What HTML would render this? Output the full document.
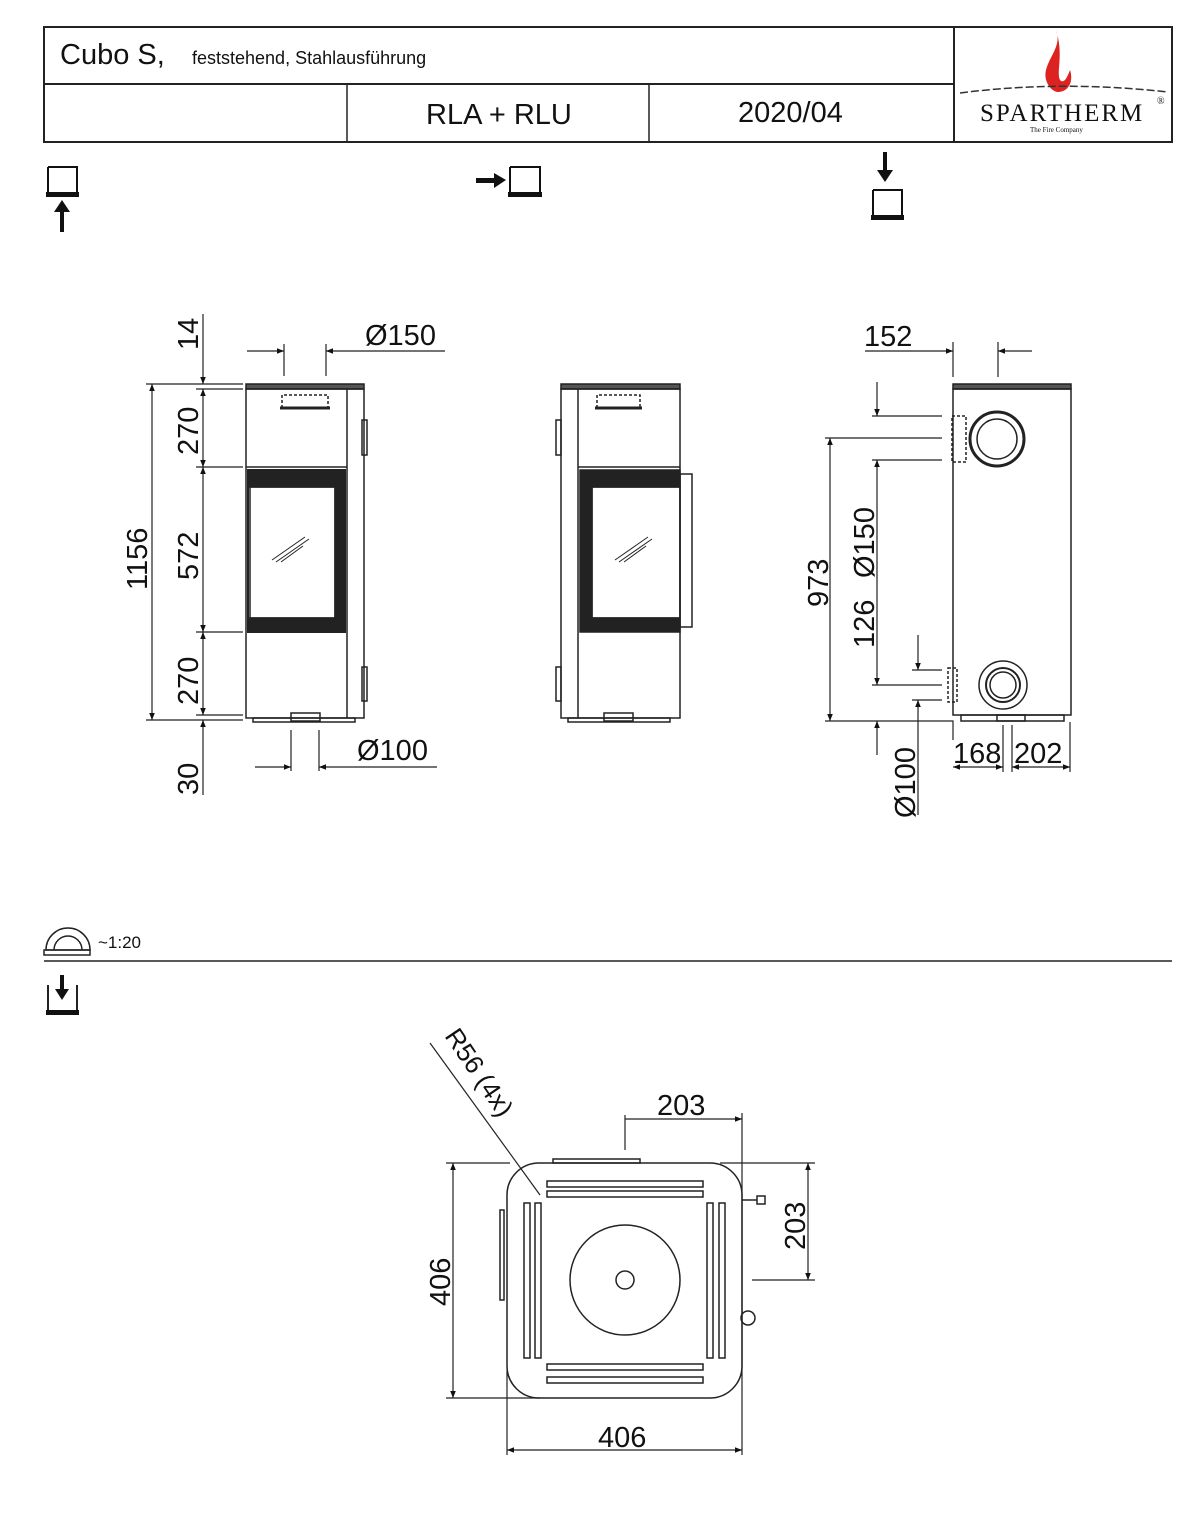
<!DOCTYPE html>
<html><head><meta charset="utf-8"><style>
html,body{margin:0;padding:0;background:#fff;}
svg{display:block;}
text{font-family:"Liberation Sans",sans-serif;fill:#111;}
</style></head><body>
<svg width="1200" height="1523" viewBox="0 0 1200 1523" xmlns="http://www.w3.org/2000/svg">
<defs>
<marker id="a" viewBox="0 0 10 10" refX="10" refY="5" markerWidth="9" markerHeight="7" orient="auto-start-reverse" markerUnits="userSpaceOnUse"><path d="M0,1 L10,5 L0,9 z" fill="#111"/></marker>
</defs>
<g stroke="#222" fill="none" stroke-width="1.5">
<!-- header -->
<rect x="44" y="27" width="1128" height="115" stroke-width="2"/>
<line x1="44" y1="84" x2="954" y2="84" stroke-width="2"/>
<line x1="954" y1="27" x2="954" y2="142" stroke-width="2"/>
<line x1="347" y1="84" x2="347" y2="142"/>
<line x1="649" y1="84" x2="649" y2="142"/>
</g>
<text x="60" y="64" font-size="29">Cubo S,</text>
<text x="192" y="64" font-size="18">feststehend, Stahlausführung</text>
<text x="426" y="124" font-size="29">RLA + RLU</text>
<text x="738" y="122" font-size="29">2020/04</text>
<!-- logo -->
<path d="M1056,30 C1062,45 1050,55 1046,70 C1043,82 1052,92 1058,92 C1068,92 1074,82 1070,70 C1067,78 1064,84 1060,80 C1056,72 1064,55 1056,30 z" fill="#d22"/>
<path d="M960,93 Q1060,80 1168,92" stroke="#333" fill="none" stroke-width="1.5" stroke-dasharray="8 3"/>
<text x="980" y="121" font-size="25" style="font-family:'Liberation Serif',serif;letter-spacing:2px">SPARTHERM</text>
<text x="1157" y="104" font-size="10" style="font-family:'Liberation Serif',serif">®</text>
<text x="1030" y="132" font-size="7" style="font-family:'Liberation Serif',serif">The Fire Company</text>

<!-- view icons -->
<g stroke="#111" fill="none" stroke-width="2">
<path d="M48,167 L48,196 L77,196 M48,167 L55,167 M77,196 L77,167 L55,167"/>
<path d="M510,167 L510,196 L540,196 L540,167 L510,167"/>
<path d="M873,190 L873,219 L902,219 L902,190 L873,190"/>
</g>
<g fill="#111">
<rect x="46" y="192" width="33" height="5"/><rect x="508" y="192" width="34" height="5"/><rect x="871" y="215" width="33" height="5"/>
<rect x="60" y="210" width="4" height="22"/><path d="M54,212 L62,200 L70,212 z"/>
<rect x="476" y="178" width="20" height="5"/><path d="M494,173 L506,180 L494,188 z"/>
<rect x="883" y="152" width="4" height="20"/><path d="M877,170 L885,182 L893,170 z"/>
</g>

<!-- FRONT VIEW -->
<g stroke="#222" fill="none" stroke-width="1.5">
<rect x="246" y="384" width="118" height="5" fill="#555"/>
<rect x="246" y="389" width="118" height="329"/>
<line x1="347" y1="389" x2="347" y2="718"/>
<line x1="246" y1="467" x2="347" y2="467"/>
<rect x="253" y="718" width="102" height="4"/>
<rect x="291" y="713" width="29" height="8"/>
<rect x="362" y="420" width="5" height="35"/><rect x="362" y="667" width="5" height="34"/>
<path d="M282,408 L282,395 L328,395 L328,408" stroke-dasharray="3 2"/>
<path d="M280,408 L330,408" stroke-width="3"/>
<rect x="248" y="470" width="97" height="162" stroke-width="2"/>
<path d="M248,470 L345,470 L345,632 L248,632 L248,618 L335,618 L335,487 L248,487 z" fill="#222"/>
<rect x="250" y="487" width="85" height="131"/>
<line x1="248" y1="628" x2="345" y2="628"/>
<line x1="272" y1="560" x2="305" y2="537" stroke-width="1"/><line x1="276" y1="562" x2="309" y2="539" stroke-width="1"/><line x1="281" y1="562" x2="303" y2="546" stroke-width="1"/>
</g>
<!-- front dims -->
<g stroke="#222" stroke-width="1.2" fill="none">
<line x1="146" y1="384" x2="243" y2="384"/><line x1="146" y1="720" x2="243" y2="720"/>
<line x1="196" y1="389" x2="243" y2="389"/><line x1="196" y1="467" x2="243" y2="467"/><line x1="196" y1="632" x2="243" y2="632"/><line x1="196" y1="715" x2="243" y2="715"/>
<line x1="152" y1="384" x2="152" y2="720" marker-start="url(#a)" marker-end="url(#a)"/>
<line x1="203" y1="314" x2="203" y2="384" marker-end="url(#a)"/>
<line x1="203" y1="389" x2="203" y2="467" marker-start="url(#a)" marker-end="url(#a)"/>
<line x1="203" y1="467" x2="203" y2="632" marker-start="url(#a)" marker-end="url(#a)"/>
<line x1="203" y1="632" x2="203" y2="715" marker-start="url(#a)" marker-end="url(#a)"/>
<line x1="203" y1="720" x2="203" y2="795" marker-start="url(#a)"/>
<line x1="284" y1="344" x2="284" y2="376"/><line x1="326" y1="344" x2="326" y2="376"/>
<line x1="247" y1="351" x2="284" y2="351" marker-end="url(#a)"/><line x1="445" y1="351" x2="326" y2="351" marker-end="url(#a)"/>
<line x1="291" y1="730" x2="291" y2="771"/><line x1="319" y1="730" x2="319" y2="771"/>
<line x1="255" y1="767" x2="291" y2="767" marker-end="url(#a)"/><line x1="437" y1="767" x2="319" y2="767" marker-end="url(#a)"/>
</g>
<text x="365" y="345" font-size="29">Ø150</text>
<text x="357" y="760" font-size="29">Ø100</text>
<g font-size="29">
<text transform="translate(198,350) rotate(-90)">14</text>
<text transform="translate(198,455) rotate(-90)">270</text>
<text transform="translate(198,580) rotate(-90)">572</text>
<text transform="translate(198,705) rotate(-90)">270</text>
<text transform="translate(198,795) rotate(-90)">30</text>
<text transform="translate(147,590) rotate(-90)">1156</text>
</g>

<!-- SIDE VIEW middle -->
<g stroke="#222" fill="none" stroke-width="1.5">
<rect x="561" y="384" width="119" height="5" fill="#555"/>
<rect x="561" y="389" width="119" height="329"/>
<line x1="578" y1="389" x2="578" y2="718"/>
<line x1="578" y1="467" x2="680" y2="467"/>
<rect x="568" y="718" width="102" height="4"/>
<rect x="604" y="713" width="29" height="8"/>
<rect x="556" y="420" width="5" height="35"/><rect x="556" y="667" width="5" height="34"/>
<path d="M597,408 L597,395 L640,395 L640,408" stroke-dasharray="3 2"/>
<path d="M595,408 L642,408" stroke-width="3"/>
<path d="M580,470 L680,470 L680,487 L592,487 L592,618 L680,618 L680,632 L580,632 z" fill="#222"/>
<rect x="592" y="487" width="88" height="131"/>
<rect x="680" y="474" width="12" height="153"/>
<line x1="615" y1="560" x2="648" y2="537" stroke-width="1"/><line x1="619" y1="562" x2="652" y2="539" stroke-width="1"/><line x1="624" y1="562" x2="646" y2="546" stroke-width="1"/>
</g>

<!-- RIGHT VIEW -->
<g stroke="#222" fill="none" stroke-width="1.5">
<rect x="953" y="384" width="118" height="5" fill="#555"/>
<rect x="953" y="389" width="118" height="326"/>
<rect x="961" y="715" width="103" height="6"/><rect x="997" y="715" width="28" height="6"/>
<circle cx="997" cy="439" r="27" stroke-width="3"/><circle cx="997" cy="439" r="20"/>
<rect x="952" y="416" width="14" height="46" stroke-dasharray="3 2"/>
<circle cx="1003" cy="685" r="24"/><circle cx="1003" cy="685" r="17" stroke-width="2"/><circle cx="1003" cy="685" r="13"/>
<rect x="948" y="668" width="9" height="34" stroke-dasharray="3 2"/>
</g>
<g stroke="#222" stroke-width="1.2" fill="none">
<line x1="953" y1="342" x2="953" y2="377"/><line x1="998" y1="342" x2="998" y2="377"/>
<line x1="865" y1="351" x2="953" y2="351" marker-end="url(#a)"/><line x1="1032" y1="351" x2="998" y2="351" marker-end="url(#a)"/>
<line x1="872" y1="416" x2="942" y2="416"/><line x1="825" y1="438" x2="942" y2="438"/><line x1="872" y1="460" x2="942" y2="460"/>
<line x1="912" y1="670" x2="942" y2="670"/><line x1="872" y1="685" x2="942" y2="685"/><line x1="912" y1="700" x2="942" y2="700"/>
<path d="M825,721 L953,721 L953,740"/>
<line x1="830" y1="438" x2="830" y2="721" marker-start="url(#a)" marker-end="url(#a)"/>
<line x1="877" y1="382" x2="877" y2="416" marker-end="url(#a)"/>
<line x1="877" y1="460" x2="877" y2="685" marker-start="url(#a)" marker-end="url(#a)"/>
<line x1="877" y1="755" x2="877" y2="721" marker-end="url(#a)"/>
<line x1="918" y1="635" x2="918" y2="670" marker-end="url(#a)"/>
<line x1="918" y1="815" x2="918" y2="700" marker-end="url(#a)"/>
<line x1="1003" y1="725" x2="1003" y2="772"/><line x1="1012" y1="725" x2="1012" y2="772"/><line x1="1070" y1="722" x2="1070" y2="772"/>
<line x1="953" y1="767" x2="1003" y2="767" marker-start="url(#a)" marker-end="url(#a)"/>
<line x1="1012" y1="767" x2="1070" y2="767" marker-start="url(#a)" marker-end="url(#a)"/>
</g>
<text x="864" y="346" font-size="29">152</text>
<text x="953" y="763" font-size="29">168</text>
<text x="1014" y="763" font-size="29">202</text>
<g font-size="29">
<text transform="translate(828,607) rotate(-90)">973</text>
<text transform="translate(874,578) rotate(-90)">Ø150</text>
<text transform="translate(874,648) rotate(-90)">126</text>
<text transform="translate(915,818) rotate(-90)">Ø100</text>
</g>

<!-- scale -->
<g stroke="#222" fill="none" stroke-width="1.5">
<path d="M46,950 A22,22 0 0 1 90,950 z"/><path d="M54,950 A14,14 0 0 1 82,950"/>
<rect x="44" y="950" width="46" height="5"/>
<line x1="44" y1="961" x2="1172" y2="961"/>
<path d="M48,985 L48,1014 L77,1014 L77,985" stroke-width="2"/>
</g>
<rect x="46" y="1010" width="33" height="5" fill="#111"/>
<rect x="60" y="975" width="4" height="16" fill="#111"/><path d="M55,989 L62,1000 L69,989 z" fill="#111"/>
<text x="98" y="948" font-size="17">~1:20</text>

<!-- PLAN -->
<g stroke="#222" fill="none" stroke-width="1.5">
<rect x="507" y="1163" width="235" height="235" rx="32"/>
<rect x="553" y="1159" width="87" height="4"/>
<rect x="500" y="1210" width="4" height="90"/>
<circle cx="625" cy="1280" r="55"/><circle cx="625" cy="1280" r="9"/>
<rect x="547" y="1181" width="156" height="6"/><rect x="547" y="1191" width="156" height="6"/>
<rect x="547" y="1364" width="156" height="6"/><rect x="547" y="1377" width="156" height="6"/>
<rect x="524" y="1203" width="6" height="155"/><rect x="535" y="1203" width="6" height="155"/>
<rect x="707" y="1203" width="6" height="155"/><rect x="719" y="1203" width="6" height="155"/>
<line x1="742" y1="1200" x2="757" y2="1200"/><rect x="757" y="1196" width="8" height="8"/>
<circle cx="748" cy="1318" r="7"/>
</g>
<g stroke="#222" stroke-width="1.2" fill="none">
<line x1="446" y1="1163" x2="510" y2="1163"/><line x1="720" y1="1163" x2="815" y2="1163"/>
<line x1="446" y1="1398" x2="540" y2="1398"/>
<line x1="752" y1="1280" x2="815" y2="1280"/>
<line x1="453" y1="1163" x2="453" y2="1398" marker-start="url(#a)" marker-end="url(#a)"/>
<line x1="808" y1="1163" x2="808" y2="1280" marker-start="url(#a)" marker-end="url(#a)"/>
<line x1="507" y1="1370" x2="507" y2="1455"/><line x1="742" y1="1113" x2="742" y2="1455"/>
<line x1="507" y1="1450" x2="742" y2="1450" marker-start="url(#a)" marker-end="url(#a)"/>
<line x1="625" y1="1115" x2="625" y2="1150"/>
<line x1="625" y1="1119" x2="742" y2="1119" marker-end="url(#a)"/>
<line x1="430" y1="1043" x2="540" y2="1195"/>
</g>
<text x="657" y="1115" font-size="29">203</text>
<text x="598" y="1447" font-size="29">406</text>
<text transform="translate(450,1306) rotate(-90)" font-size="29">406</text>
<text transform="translate(805,1250) rotate(-90)" font-size="29">203</text>
<text transform="translate(444,1036) rotate(56)" font-size="26">R56 (4x)</text>
</svg>
</body></html>
